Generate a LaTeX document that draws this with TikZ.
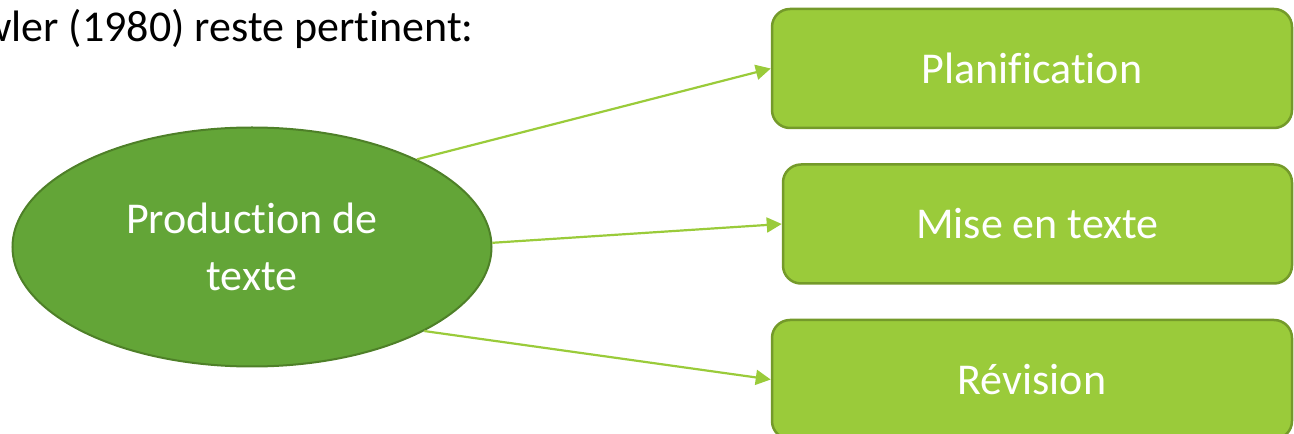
\documentclass[tikz,border=0pt]{standalone}
\usepackage{fontspec}
\setmainfont{Carlito}[Ligatures={NoCommon}]
\usetikzlibrary{positioning, arrows.meta, shapes.geometric}
\definecolor{vertfonce}{RGB}{99,165,55}
\definecolor{vertfoncebord}{RGB}{78,128,40}
\definecolor{vertclair}{RGB}{154,203,58}
\definecolor{vertclairbord}{RGB}{116,154,42}
\tikzset{
x=1pt, y=1pt, % one unit = one pixel of the picture
node distance=34pt, % space between the three boxes
every node/.style={font=\fontsize{44}{57}\selectfont}, % sets the text size
centre/.style={ellipse, draw=vertfoncebord, line width=2pt, fill=vertfonce, text=white, align=center, minimum width=479pt, minimum height=239pt, inner sep=0pt}, % the big ellipse
etape/.style={draw=vertclairbord, line width=2.5pt, fill=vertclair, text=white, rounded corners=18pt, minimum width=520pt, minimum height=119pt}, % the boxes on the right
fleche/.style={draw=vertclair, line width=2.2pt, -{Triangle[length=15pt,width=15pt]}}, % the arrows
}
\begin{document}
\begin{tikzpicture}
       \useasboundingbox (0,0) rectangle (1294,434);
       \node[anchor=base east] (titre) at (477,392) {wler (1980) reste pertinent:};
       \node[centre] (prod) at (252,187) {Production de\\texte};
       \node[etape] (plan) at (1032,365.5) {Planification};
       \node[etape, minimum width=509pt, below=of plan, xshift=5.5pt] (mise) {Mise en texte};
       \node[etape, below=of mise, xshift=-5.5pt] (revi) {Révision};


     \draw[fleche] (prod.28) -- (plan.west);
     \draw[fleche] (prod.1) -- (mise.west);
     \draw[fleche] (prod.-26) -- (revi.west);

  \end{tikzpicture}
\end{document}
